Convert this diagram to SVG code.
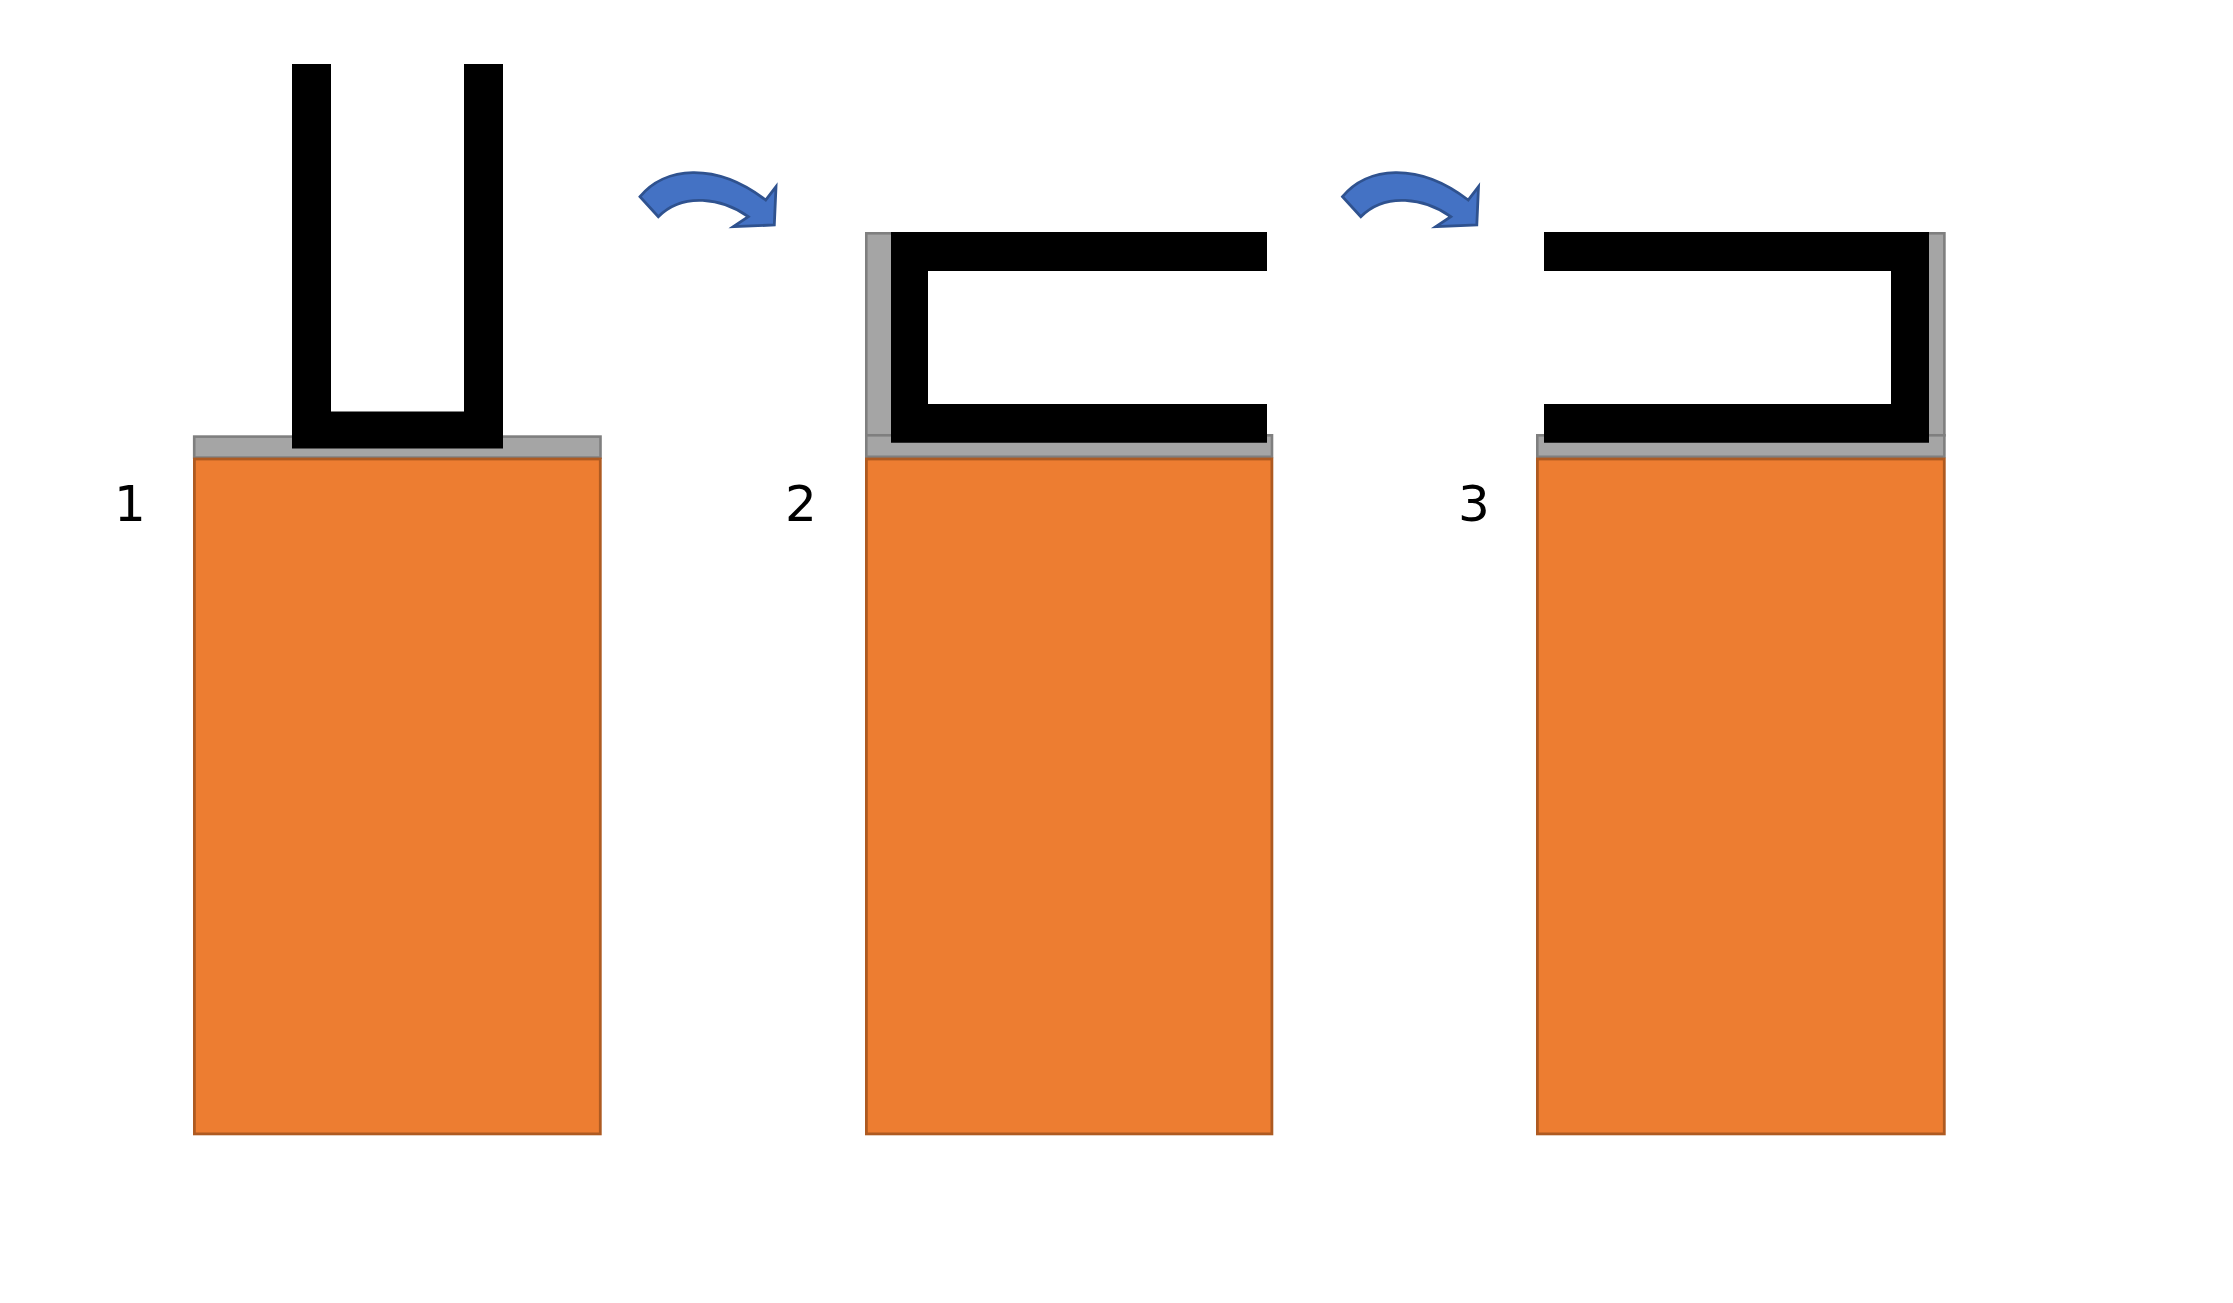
<svg xmlns="http://www.w3.org/2000/svg" width="2233" height="1303" viewBox="0 0 2233 1303">
<style>
.gray{fill:#A5A5A5;stroke:#7F7F7F;stroke-width:2.6}
.orange{fill:#ED7D31;stroke:#AE5A21;stroke-width:2.8}
.black{fill:#000000;stroke:none}
.arrow{fill:#4472C4;stroke:#2F528F;stroke-width:2.8;stroke-linejoin:miter}
.label{font-family:"DejaVu Sans",sans-serif;font-size:50px;fill:#000000;text-anchor:middle}
</style>
<defs>
<path id="curvedArrow" d="M640,196.7 C664,167 715,161 765.7,200 L776,186.7 L774.3,225 L733.3,226.7 L748.3,216.7 C722,198 683,192 658.3,216.7 Z"/>
</defs>
<rect width="2233" height="1303" fill="#FFFFFF"/>
<g id="panel1">
<rect class="gray" x="194.2" y="436.6" width="406.3" height="21"/>
<rect class="orange" x="194.4" y="459" width="405.9" height="674.9"/>
<path class="black" d="M292,64 H331 V411.6 H464 V64 H503 V448.6 H292 Z"/>
<text class="label" x="130" y="521">1</text>
</g>
<g id="panel2">
<rect class="gray" x="866.3" y="233.3" width="40" height="202"/>
<rect class="gray" x="866.3" y="435.3" width="405.7" height="21.5"/>
<rect class="orange" x="866.4" y="459" width="405.5" height="674.9"/>
<path class="black" d="M891,232 H1267 V271 H928 V404 H1267 V442.7 H891 Z"/>
<text class="label" x="801" y="521">2</text>
</g>
<g id="panel3">
<rect class="gray" x="1905" y="233.3" width="39.4" height="202"/>
<rect class="gray" x="1537.3" y="435.3" width="407.1" height="21.5"/>
<rect class="orange" x="1537.4" y="459" width="406.9" height="674.9"/>
<path class="black" d="M1544,232 H1929 V442.7 H1544 V404 H1891 V271 H1544 Z"/>
<text class="label" x="1474" y="521">3</text>
</g>
<g id="connectors">
<use href="#curvedArrow" class="arrow"/>
<use href="#curvedArrow" class="arrow" transform="translate(702.5,0)"/>
</g>
</svg>
